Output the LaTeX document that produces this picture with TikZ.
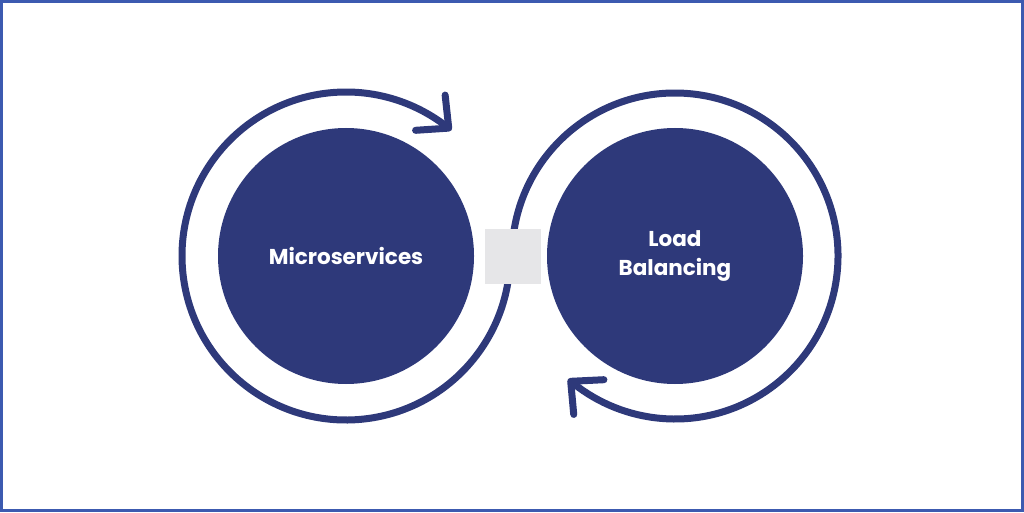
\documentclass[tikz,border=0pt]{standalone}
\usepackage{fontspec}
\setmainfont{Poppins}
\usetikzlibrary{arrows.meta, bending}
\definecolor{navy}{RGB}{46,57,122}
\definecolor{frameblue}{RGB}{60,90,176}
\definecolor{boxgray}{RGB}{230,230,232}

\begin{document}
\begin{tikzpicture}[x=1pt, y=1pt,
    disc/.style={circle, fill=navy, minimum size=256pt, inner sep=0pt, text=white, align=center, font=\fontsize{21.5}{29}\selectfont\bfseries},
    ring/.style={draw=navy, line width=7pt, -{Straight Barb[length=24pt, width=46pt, round, flex]}},
    joint/.style={fill=boxgray, minimum width=56pt, minimum height=55pt, inner sep=0pt}]
    \useasboundingbox (0,0) rectangle (1024,512);
    % Frame
    \draw[frameblue, line width=3pt] (1.5,1.5) rectangle (1022.5,510.5);

    % Circles
    \node[disc] (ms) at (346,256) {Microservices};
    \node[disc] (lb) at (675,256) {Load\\Balancing};

    % Rings round them
    \draw[ring] ([shift={(5:164)}]ms.center) arc[start angle=5, end angle=-310, radius=164];
    \draw[ring] ([shift={(175:163)}]lb.center) arc[start angle=175, end angle=-131, radius=163];

    % Square where the rings meet
    \node[joint] (jn) at (513,256) {};
  \end{tikzpicture}
\end{document}
